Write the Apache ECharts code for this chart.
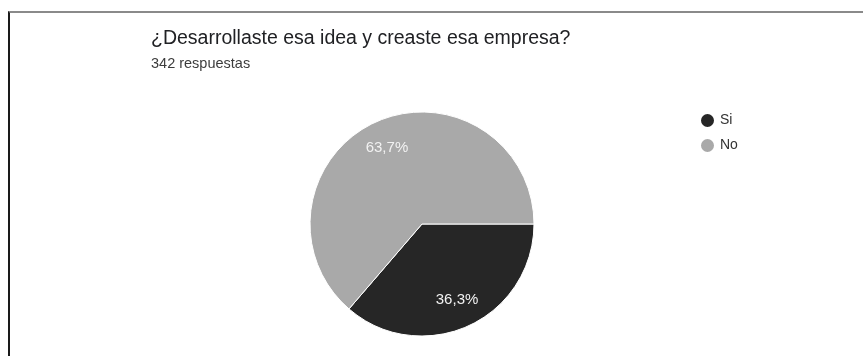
<!DOCTYPE html>
<html>
<head>
<meta charset="utf-8">
<script src="https://cdn.jsdelivr.net/npm/echarts@6/dist/echarts.min.js"></script>
<style>
  html, body { margin: 0; padding: 0; background: #fff; }
  #frame {
    position: absolute; left: 8px; top: 11px; right: 0; bottom: 0;
    border-top: 2px solid #8a8a8a; border-left: 2px solid #1a1a1a;
  }
  #chart { position: absolute; left: 0; top: 0; width: 863px; height: 356px; }
</style>
</head>
<body>
<div id="frame"></div>
<div id="chart"></div>
<script>
// Survey answers: share of respondents for each option (percent)
const categories = ['Si', 'No'];
const shares = [36.3, 63.7];
const sliceColors = ['#262626', '#a9a9a9'];
const questionTitle = '¿Desarrollaste esa idea y creaste esa empresa?';
const responseCount = '342 respuestas';

const pieData = categories.map((name, i) => ({ name, value: shares[i] }));
const fmt = p => p.value.toFixed(1).replace('.', ',') + '%';
const FONT = '"Liberation Sans", Arial, sans-serif';

const chart = echarts.init(document.getElementById('chart'), null, { renderer: 'canvas' });
chart.setOption({
  animation: false,
  color: sliceColors,
  title: {
    text: questionTitle,
    subtext: responseCount,
    left: 151,
    top: 29,
    padding: 0,
    itemGap: 7,
    textStyle: { fontFamily: FONT, fontSize: 19.5, fontWeight: 'normal', color: '#202124' },
    subtextStyle: { fontFamily: FONT, fontSize: 14.5, color: '#3c3c3c' }
  },
  legend: {
    orient: 'vertical',
    left: 699,
    top: 112,
    padding: 0,
    icon: 'circle',
    itemWidth: 15,
    itemHeight: 15,
    itemGap: 8,
    data: categories,
    textStyle: { fontFamily: FONT, fontSize: 14, color: '#333' }
  },
  series: [
    {
      name: 'Respuestas',
      type: 'pie',
      center: [422, 224],
      radius: [0, 112],
      startAngle: 0,
      clockwise: true,
      silent: true,
      data: pieData,
      itemStyle: { borderColor: '#ffffff', borderWidth: 1 },
      label: { show: false },
      labelLine: { show: false }
    },
    {
      // transparent ring used only to place the percentage labels
      name: 'Etiquetas',
      type: 'pie',
      center: [422, 224],
      radius: [50, 112],
      startAngle: 0,
      clockwise: true,
      silent: true,
      data: pieData,
      itemStyle: { color: 'rgba(0,0,0,0)' },
      label: {
        show: true,
        position: 'inside',
        formatter: fmt,
        fontFamily: FONT,
        fontSize: 15,
        color: '#f2f2f2'
      },
      labelLine: { show: false }
    }
  ]
});
</script>
</body>
</html>
